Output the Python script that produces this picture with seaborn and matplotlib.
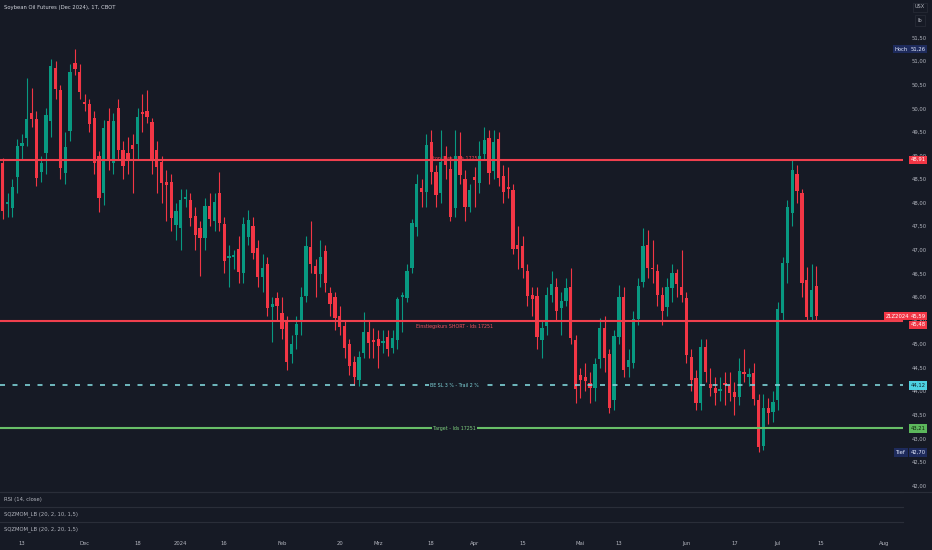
import numpy as np
import pandas as pd
import seaborn as sns
import matplotlib
matplotlib.use("Agg")
import matplotlib.pyplot as plt
import matplotlib.transforms as mtransforms

# ---------------- data ----------------
opens = [48.84, 47.98, 47.89, 48.55, 49.20, 49.37, 49.90, 49.78, 48.65, 49.05,
         49.73, 50.86, 50.39, 48.63, 49.52, 50.96, 50.77, 50.12, 50.09, 49.80,
         48.99, 48.21, 49.73, 48.84, 50.01, 49.12, 49.05, 49.22, 49.25, 49.92,
         49.95, 49.71, 49.12, 48.86, 48.44, 48.44, 47.53, 47.46, 48.08, 48.06,
         47.72, 47.46, 47.25, 47.93, 47.61, 48.21, 47.55, 46.83, 46.85, 47.02,
         46.51, 47.27, 47.51, 47.04, 46.42, 46.70, 45.79, 45.98, 45.66, 45.49,
         44.79, 45.19, 45.47, 46.02, 47.06, 46.66, 46.49, 46.98, 46.09, 46.00,
         45.60, 45.39, 45.00, 44.62, 44.24, 44.81, 45.26, 45.09, 45.11, 45.03,
         45.15, 44.92, 45.09, 46.00, 45.98, 46.62, 47.49, 48.31, 48.23, 49.29,
         48.65, 48.21, 48.99, 48.72, 47.89, 48.99, 48.50, 47.91, 48.55, 48.42,
         49.03, 49.37, 48.67, 49.35, 48.57, 48.33, 48.27, 47.10, 47.08, 46.55,
         46.04, 46.02, 45.09, 45.39, 46.04, 46.21, 45.77, 45.92, 46.21, 45.09,
         44.35, 44.30, 44.18, 44.07, 44.69, 45.34, 44.79, 43.82, 45.15, 46.00,
         44.52, 44.60, 45.53, 46.32, 47.10, 46.62, 46.55, 46.04, 45.79, 46.19,
         46.51, 46.21, 45.98, 44.73, 44.28, 43.75, 44.94, 44.16, 44.07, 44.01,
         44.18, 44.14, 43.99, 43.88, 44.39, 44.30, 44.39, 43.82, 42.84, 43.65,
         43.56, 43.82, 45.66, 46.72, 47.78, 48.61, 48.21, 46.36, 45.58, 46.23]

closes = [47.82, 47.99, 48.33, 49.20, 49.27, 49.78, 49.78, 48.52, 48.84, 49.86,
          50.90, 50.41, 48.74, 49.18, 50.77, 50.84, 50.35, 50.10, 49.67, 48.84,
          48.10, 49.59, 48.91, 49.73, 49.12, 48.78, 48.91, 49.14, 49.82, 49.88,
          49.82, 48.91, 48.76, 48.42, 48.38, 47.68, 47.82, 48.06, 48.12, 47.68,
          47.32, 47.25, 47.93, 47.65, 48.02, 47.57, 46.76, 46.87, 46.89, 46.53,
          47.55, 47.63, 46.93, 46.42, 46.62, 45.77, 45.85, 45.81, 45.32, 44.62,
          45.00, 45.43, 46.00, 47.08, 46.70, 46.49, 46.85, 46.30, 45.85, 45.56,
          45.36, 44.92, 44.54, 44.30, 44.73, 45.26, 45.03, 45.05, 44.96, 45.07,
          44.90, 45.13, 45.96, 46.02, 46.55, 47.57, 48.40, 48.23, 49.22, 48.65,
          48.16, 48.86, 48.80, 47.70, 48.99, 48.59, 47.91, 48.27, 48.48, 48.99,
          49.33, 48.63, 49.29, 48.52, 48.23, 48.29, 47.02, 47.02, 46.62, 46.02,
          45.96, 45.15, 45.34, 46.04, 46.28, 45.70, 45.92, 46.19, 45.13, 44.05,
          44.24, 44.22, 44.07, 44.58, 45.34, 44.71, 43.65, 45.17, 46.00, 44.45,
          44.66, 45.53, 46.23, 47.08, 46.62, 46.59, 46.04, 45.70, 46.21, 46.51,
          46.28, 46.04, 44.77, 44.24, 43.75, 44.94, 44.41, 44.07, 43.96, 44.05,
          44.14, 43.96, 43.88, 44.43, 44.37, 44.37, 43.84, 42.82, 43.65, 43.54,
          43.77, 45.75, 46.72, 47.91, 48.69, 48.25, 46.30, 45.58, 46.15, 45.59]

highs = [48.95, 48.20, 48.50, 49.35, 49.45, 50.65, 50.43, 49.95, 49.00, 50.00,
         51.05, 51.00, 50.50, 49.50, 50.95, 51.26, 50.95, 50.30, 50.20, 49.95,
         49.10, 49.75, 50.00, 49.90, 50.20, 49.30, 49.40, 49.45, 50.00, 50.30,
         50.39, 49.80, 49.30, 49.00, 48.70, 48.60, 48.00, 48.30, 48.30, 48.20,
         47.90, 47.60, 48.10, 48.20, 48.20, 48.65, 47.70, 47.10, 47.00, 47.30,
         47.70, 47.85, 47.70, 47.20, 46.90, 46.85, 46.00, 46.10, 46.00, 45.60,
         45.20, 45.60, 46.20, 47.30, 47.60, 46.80, 47.20, 47.10, 46.20, 46.10,
         45.80, 45.50, 45.10, 44.75, 44.85, 45.68, 45.50, 45.35, 45.30, 45.30,
         45.30, 45.30, 46.00, 46.10, 46.70, 47.65, 48.60, 48.50, 49.45, 49.55,
         48.80, 49.55, 49.20, 49.00, 49.55, 49.50, 48.70, 48.40, 48.75, 49.30,
         49.60, 49.55, 49.55, 49.50, 48.80, 48.75, 48.40, 47.50, 47.30, 46.70,
         46.20, 46.20, 45.50, 46.20, 46.55, 46.40, 46.10, 46.40, 46.62, 45.20,
         44.50, 44.60, 44.40, 44.70, 45.55, 45.60, 44.90, 45.30, 46.25, 46.20,
         44.90, 45.70, 46.40, 47.46, 47.42, 47.20, 46.70, 46.20, 46.40, 46.70,
         46.60, 47.00, 46.10, 44.90, 44.45, 45.10, 45.10, 44.50, 44.30, 44.30,
         44.40, 44.40, 44.20, 44.70, 44.90, 44.50, 44.60, 43.95, 43.95, 43.85,
         44.00, 45.90, 46.85, 48.05, 48.91, 48.80, 48.30, 46.64, 46.70, 46.65]

lows = [47.65, 47.70, 47.70, 48.20, 48.90, 49.20, 49.60, 48.35, 48.44, 48.60,
        49.40, 50.20, 48.50, 48.40, 49.30, 50.70, 50.20, 49.95, 49.50, 48.60,
        47.80, 47.95, 48.70, 48.60, 48.90, 48.50, 48.60, 48.21, 48.90, 49.50,
        49.70, 48.60, 48.20, 48.00, 47.60, 47.40, 47.20, 47.00, 47.90, 47.50,
        47.00, 46.45, 47.00, 47.50, 47.40, 47.40, 46.50, 46.20, 46.60, 46.30,
        46.30, 47.10, 46.80, 46.20, 46.10, 45.60, 45.05, 45.50, 45.10, 44.45,
        44.60, 44.90, 45.20, 45.90, 46.50, 46.00, 46.20, 46.10, 45.60, 45.30,
        45.20, 44.70, 44.35, 44.12, 44.10, 44.70, 44.70, 44.70, 44.50, 44.80,
        44.75, 44.80, 44.90, 45.25, 45.90, 46.50, 47.30, 47.90, 47.90, 48.40,
        47.90, 48.00, 48.50, 47.60, 47.70, 48.40, 47.60, 47.80, 47.90, 48.20,
        48.90, 48.40, 48.50, 48.35, 48.00, 48.10, 46.90, 46.60, 46.40, 45.80,
        45.60, 44.90, 44.70, 45.20, 45.90, 45.50, 45.20, 45.80, 45.00, 43.75,
        43.85, 44.00, 43.75, 43.80, 44.50, 44.40, 43.54, 43.60, 45.00, 44.30,
        44.30, 44.50, 45.40, 46.20, 46.40, 46.30, 45.80, 45.40, 45.60, 45.90,
        46.00, 45.90, 44.60, 44.00, 43.60, 43.60, 44.20, 43.90, 43.70, 43.80,
        43.70, 43.80, 43.50, 43.70, 44.20, 44.10, 43.70, 42.70, 42.75, 43.30,
        43.35, 43.60, 45.50, 46.30, 47.50, 48.00, 46.00, 45.50, 45.50, 45.50]

tick_idx = [4, 17, 28, 37, 46, 58, 70, 78, 89, 98, 108, 120, 128, 142, 152, 161, 170, 183]
tick_labels = ["13", "Dec", "18", "2024", "16", "Feb", "20", "Mrz", "18", "Apr",
               "15", "Mai", "13", "Jun", "17", "Jul", "15", "Aug"]

stop_level = 48.91
entry_level = 45.48
be_level = 44.12
target_level = 43.21
last_close = 45.59
high_val = 51.26
low_val = 42.70

title = "Soybean Oil Futures (Dec 2024), 1T, CBOT"
pane_titles = ["RSI (14, close)", "SQZMOM_LB (20, 2, 10, 1,5)", "SQZMOM_LB (20, 2, 20, 1,5)"]

# ---------------- style ----------------
BG = "#161a25"
GREEN = "#089981"
RED = "#f23645"
TXT = "#b2b5be"
SEP = "#2a2e39"

sns.set_theme(style="dark", rc={"axes.facecolor": BG, "figure.facecolor": BG,
                                "axes.edgecolor": BG, "axes.grid": False})
plt.rcParams["font.family"] = ["DejaVu Sans"]

W, H = 932, 550
fig = plt.figure(figsize=(W / 100, H / 100), dpi=100, facecolor=BG)


def rect(x0, y0, x1, y1):
    return [x0 / W, 1 - y1 / H, (x1 - x0) / W, (y1 - y0) / H]


ax = fig.add_axes(rect(0, 0, 903, 492))
ax.set_facecolor(BG)

df = pd.DataFrame({"open": opens, "high": highs, "low": lows, "close": closes})
df["idx"] = np.arange(len(df))
df["up"] = df["close"] >= df["open"]
colors = np.where(df["up"], GREEN, RED)

ax.vlines(df["idx"], df["low"], df["high"], colors=colors, lw=0.8, zorder=2)
body = np.maximum((df["close"] - df["open"]).abs(), 0.03)
ax.bar(df["idx"], body, bottom=np.minimum(df["open"], df["close"]), width=0.68,
       color=colors, linewidth=0, zorder=2.1)

ax.set_xlim(-0.56, 187.0)
ax.set_ylim(41.86, 52.30)
for s in ax.spines.values():
    s.set_visible(False)
ax.set_xticks([])
ax.yaxis.tick_right()
yt = np.arange(42.0, 51.51, 0.5)
ax.set_yticks(yt)
ax.set_yticklabels([f"{v:.2f}".replace(".", ",") for v in yt])
ax.tick_params(axis="y", length=0, pad=6.3, labelsize=3.8, labelcolor=TXT)

# horizontal levels
ax.axhline(stop_level, color="#f0404e", lw=1.5, zorder=3)
ax.axhline(entry_level, color="#f0404e", lw=1.5, zorder=3)
ax.axhline(be_level, color="#7fd3d9", lw=1.2, ls=(0, (3.0, 4.5)), zorder=3)
ax.axhline(target_level, color="#68bf68", lw=1.5, zorder=3)

xc = 93.9
ax.annotate("Stop Loss - Ids 17251", (xc, stop_level), xytext=(0, 1.2),
            textcoords="offset points", ha="center", va="center", fontsize=3.4,
            color="#f0404e", zorder=1)
ax.annotate("Einstiegskurs SHORT - Ids 17251", (xc, entry_level), xytext=(0, -3.4),
            textcoords="offset points", ha="center", va="center", fontsize=3.4,
            color="#f7525f", zorder=4)
ax.text(xc, be_level, "BE SL 3 % - Trail 2 %", ha="center", va="center",
        fontsize=3.4, color="#7fd3d9", zorder=4,
        bbox=dict(boxstyle="square,pad=0.25", fc=BG, ec="none"))
ax.text(xc, target_level, "Target - Ids 17251", ha="center", va="center",
        fontsize=3.4, color="#7fcf7f", zorder=4,
        bbox=dict(boxstyle="square,pad=0.25", fc=BG, ec="none"))

# right-side price boxes
tr = mtransforms.blended_transform_factory(ax.transAxes, ax.transData)
xv = 918 / 903
xl = 901 / 903
xz = 897.5 / 903


def box(x, y, s, fc, tc, dy=0.0):
    ax.text(x, y + dy, s, transform=tr, ha="center", va="center", fontsize=3.8,
            color=tc, zorder=6, clip_on=False,
            bbox=dict(boxstyle="square,pad=0.32", fc=fc, ec="none"))


fmt = lambda v: f"{v:.2f}".replace(".", ",")
box(xl, high_val, "Hoch", "#1e2b5c", "#e6ebff")
box(xv, high_val, fmt(high_val), "#1e2b5c", "#e6ebff")
box(xv, stop_level, fmt(stop_level), RED, "white")
box(xz, last_close, "ZLZ2024", RED, "white")
box(xv, last_close, fmt(last_close), RED, "white")
box(xv, entry_level, fmt(entry_level), RED, "white", dy=-0.07)
box(xv, be_level, fmt(be_level), "#4dd0e1", "#10222a")
box(xv, target_level, fmt(target_level), "#5cb85c", "#10200f")
box(xl, low_val, "Tief", "#1e2b5c", "#e6ebff")
box(xv, low_val, fmt(low_val), "#1e2b5c", "#e6ebff")

# title and unit boxes
fig.text(4 / W, 1 - 7 / H, title, fontsize=3.8, color="#d1d4dc", va="center", ha="left")
fig.text(920 / W, 1 - 7 / H, "USX", fontsize=3.6, color=TXT, va="center", ha="center",
         bbox=dict(boxstyle="square,pad=0.4", fc=BG, ec=SEP, lw=0.5))
fig.text(920 / W, 1 - 20 / H, "lb", fontsize=3.6, color=TXT, va="center", ha="center",
         bbox=dict(boxstyle="square,pad=0.6", fc=BG, ec=SEP, lw=0.5))

# indicator panes
pane_rows = [(492, 507), (507, 522), (522, 537)]
panes = []
for (y0, y1), name in zip(pane_rows, pane_titles):
    p = fig.add_axes(rect(0, y0, 903, y1))
    p.set_facecolor(BG)
    p.set_xlim(ax.get_xlim())
    p.set_yticks([])
    p.set_xticks([])
    for k, s in p.spines.items():
        s.set_visible(k == "top")
        s.set_color(SEP)
        s.set_linewidth(0.8)
    p.text(4 / 903, 0.5, name, transform=p.transAxes, fontsize=3.8, color=TXT,
           va="center", ha="left")
    panes.append(p)

fig.add_artist(plt.Line2D([0, 1], [1 - 492 / H, 1 - 492 / H], color=SEP, lw=0.8))

last = panes[-1]
last.set_xticks(tick_idx)
last.set_xticklabels(tick_labels)
last.tick_params(axis="x", length=0, pad=3.0, labelsize=3.8, labelcolor=TXT)

fig.savefig("out.png", dpi=100, facecolor=BG)
